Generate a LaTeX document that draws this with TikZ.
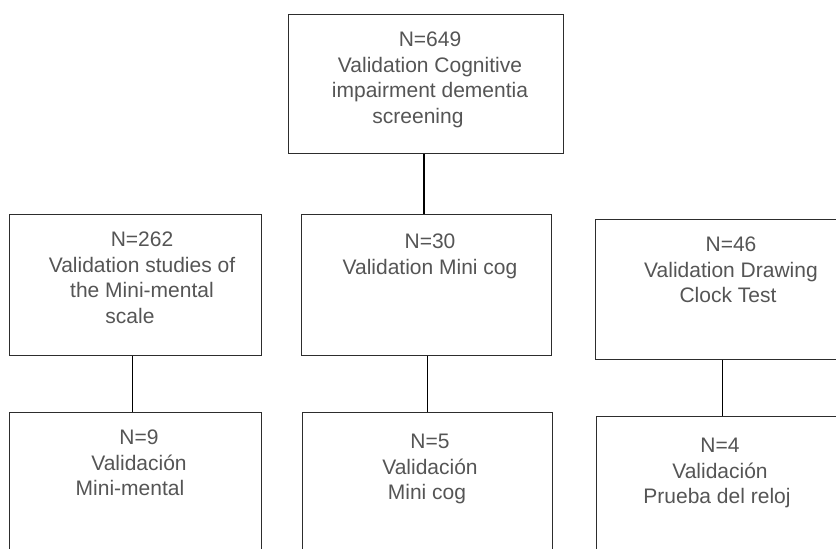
\documentclass[tikz,border=0pt]{standalone}
\usepackage{fontspec}
\setmainfont{Liberation Sans}
\definecolor{txt}{RGB}{85,85,85}
\definecolor{edge}{RGB}{45,45,45}
\newcommand\padr[1]{\rule{#1pt}{0pt}}
\begin{document}
\begin{tikzpicture}[x=1pt,y=-1pt,
  box/.style={draw=edge, line width=1.3pt, rectangle, inner sep=0pt, anchor=north west},
  lbl/.style={text=txt, align=center, inner sep=0pt, anchor=north, font=\fontsize{21}{25.5}\selectfont},
  link/.style={draw=black, line width=1.4pt}]
\useasboundingbox (0,0) rectangle (836,549);
\clip (0,0) rectangle (836,549);
\fill[white] (0,0) rectangle (836,549);
% boxes
\node[box, minimum width=275pt, minimum height=139pt] (top) at (288,14) {};
\node[box, minimum width=252pt, minimum height=141pt] (lm) at (9,214) {};
\node[box, minimum width=250pt, minimum height=141pt] (mmc) at (301,214) {};
\node[box, minimum width=254pt, minimum height=140pt] (rm) at (595,219) {};
\node[box, minimum width=252pt, minimum height=160pt] (bl) at (9,412) {};
\node[box, minimum width=250pt, minimum height=160pt] (bc) at (302,412) {};
\node[box, minimum width=253pt, minimum height=160pt] (br) at (596,416) {};
% texts
\node[lbl] (topt) at (430,32) {N=649\\Validation Cognitive\\impairment dementia\\screening\padr{24}};
\node[lbl] (lmt) at (142,232) {N=262\\Validation studies of\\the Mini-mental\\scale\padr{24}};
\node[lbl] (mmct) at (430,234) {N=30\\Validation Mini cog};
\node[lbl] (rmt) at (731,237) {N=46\\Validation Drawing\\Clock Test\padr{6}};
\node[lbl] (blt) at (139,430) {N=9\\Validación\\Mini-mental\padr{18}};
\node[lbl] (bct) at (430,434) {N=5\\Validación\\Mini cog\padr{6}};
\node[lbl] (brt) at (720,438) {N=4\\Validación\\Prueba del reloj\padr{6}};
% connectors
\draw[link, line width=1.8pt] ([xshift=-2.5pt]top.south) -- ([xshift=-2.5pt]top.south |- mmc.north);
\draw[link] ([xshift=-3pt]lm.south) -- ([xshift=-3pt]lm.south |- bl.north);
\draw[link] ([xshift=1pt]mmc.south) -- ([xshift=1pt]mmc.south |- bc.north);
\draw[link] (rm.south) -- (rm.south |- br.north);
\end{tikzpicture}
\end{document}
